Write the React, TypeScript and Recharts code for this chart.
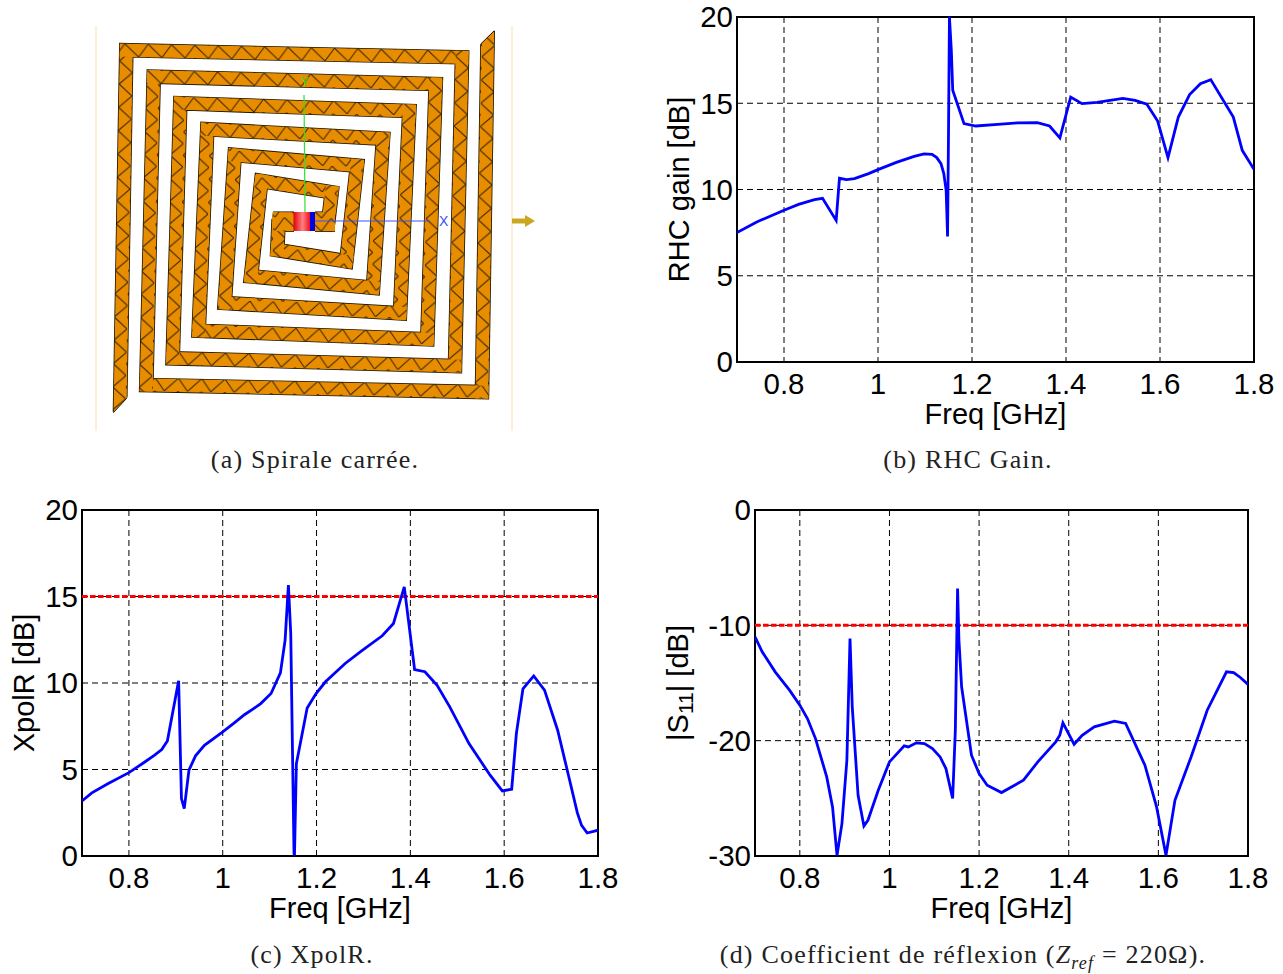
import {
  LineChart, Line, XAxis, YAxis, CartesianGrid, ReferenceArea, ReferenceLine,
  ScatterChart, Scatter,
} from "recharts";

const SANS = "'Liberation Sans', Arial, sans-serif";
const SERIF = "'Liberation Serif', serif";

// panel (b)
const gainFreq = [0.7, 0.742, 0.8, 0.831, 0.865, 0.882, 0.911, 0.918, 0.933, 0.95, 0.98, 1.0, 1.039, 1.077, 1.098, 1.115, 1.125, 1.134, 1.14, 1.145, 1.148, 1.15, 1.152, 1.156, 1.159, 1.183, 1.208, 1.255, 1.297, 1.339, 1.365, 1.387, 1.41, 1.434, 1.466, 1.521, 1.547, 1.572, 1.595, 1.617, 1.639, 1.663, 1.686, 1.708, 1.756, 1.775, 1.8];
const gainDb = [7.5, 8.12, 8.8, 9.14, 9.41, 9.49, 8.21, 10.65, 10.57, 10.63, 10.92, 11.15, 11.57, 11.92, 12.06, 12.04, 11.85, 11.5, 10.92, 9.95, 7.28, 13.2, 20, 18.07, 15.75, 13.82, 13.68, 13.78, 13.86, 13.87, 13.68, 12.99, 15.36, 14.98, 15.05, 15.28, 15.17, 14.94, 13.97, 11.85, 14.2, 15.5, 16.13, 16.37, 14.2, 12.27, 11.17];

// panel (c)
const xpolFreq = [0.7, 0.721, 0.756, 0.8, 0.833, 0.854, 0.87, 0.882, 0.906, 0.912, 0.918, 0.928, 0.942, 0.961, 1.0, 1.024, 1.047, 1.065, 1.081, 1.103, 1.123, 1.133, 1.14, 1.145, 1.152, 1.153, 1.157, 1.18, 1.199, 1.219, 1.261, 1.296, 1.34, 1.364, 1.387, 1.409, 1.431, 1.457, 1.484, 1.525, 1.57, 1.596, 1.616, 1.626, 1.64, 1.663, 1.686, 1.714, 1.737, 1.756, 1.765, 1.777, 1.8];
const xpolDb = [3.18, 3.65, 4.19, 4.82, 5.42, 5.82, 6.15, 6.65, 10.13, 3.32, 2.74, 4.96, 5.79, 6.4, 7.17, 7.68, 8.18, 8.5, 8.81, 9.39, 10.59, 12.48, 15.66, 12.86, 0.13, 0.05, 5.34, 8.56, 9.39, 10.07, 11.13, 11.86, 12.73, 13.44, 15.56, 10.78, 10.65, 9.87, 8.62, 6.5, 4.67, 3.76, 3.86, 7.08, 9.66, 10.41, 9.59, 7.27, 4.67, 2.49, 1.77, 1.33, 1.49];

// panel (d)
const s11Freq = [0.7, 0.716, 0.745, 0.777, 0.8, 0.817, 0.835, 0.86, 0.873, 0.883, 0.894, 0.905, 0.912, 0.917, 0.93, 0.943, 0.952, 0.975, 1.0, 1.033, 1.042, 1.06, 1.078, 1.096, 1.113, 1.126, 1.141, 1.147, 1.152, 1.155, 1.161, 1.183, 1.2, 1.218, 1.25, 1.299, 1.331, 1.371, 1.38, 1.387, 1.412, 1.43, 1.457, 1.502, 1.527, 1.57, 1.596, 1.617, 1.637, 1.673, 1.709, 1.752, 1.768, 1.783, 1.8];
const s11Db = [-10.99, -12.29, -14.03, -15.62, -16.92, -18.08, -19.82, -23.14, -25.74, -29.94, -27.19, -21.7, -11.14, -17.07, -24.73, -27.39, -26.9, -24.3, -21.84, -20.45, -20.54, -20.19, -20.25, -20.68, -21.41, -22.42, -25.02, -19.09, -6.8, -11.28, -15.33, -21.26, -22.85, -23.86, -24.5, -23.43, -21.84, -20.1, -19.53, -18.46, -20.31, -19.53, -18.8, -18.31, -18.51, -22.13, -25.74, -29.94, -25.17, -21.41, -17.36, -14.03, -14.09, -14.52, -15.13];

const freqTicks = [0.8, 1, 1.2, 1.4, 1.6, 1.8];
const gainTicks = [0, 5, 10, 15, 20];
const s11Ticks = [-30, -20, -10, 0];

// panel (a), spiral centre lines in page pixels
const armA = [[120, 412], [126.3, 50.3], [462, 57.3], [455, 366], [172.7, 358.3], [180.3, 103.3], [409.3, 111], [400, 313.3], [224.7, 303], [234.7, 155], [357, 165.7], [346.3, 261.3], [277.3, 250], [278.7, 219]];
const armB = [[487.7, 31], [482, 392], [146.3, 385], [153.7, 76.7], [435.7, 84], [427.3, 339.3], [198.7, 330.7], [207.3, 129.3], [383, 138.7], [373, 287.7], [251, 276.3], [261.3, 181], [331.7, 192.3], [328, 224]];
const feedLeft = [[273, 221.7], [294, 221.7]];
const feedRight = [[315, 221.7], [335, 221.7]];
const feedRed = [[293.5, 221.5], [310, 221.5]];
const feedBlue = [[310, 221.5], [315, 221.5]];
const tipTop = [[472, 42.8], [496.4, 18.4]];
const tipBottom = [[111, 425], [136, 398.6]];
const tipTopEdge = [[480.7, 44], [494.3, 30.7]];
const tipBottomEdge = [[113.3, 412.7], [126.7, 398.3]];
const yAxisLine = [[304, 95], [305, 212]];
const xAxisLine = [[315, 221], [429.3, 221]];
const boxLeft = [[96, 26], [96, 431]];
const boxRight = [[512, 26], [512, 431]];
const arrowShaft = [[512, 221], [526, 221]];
const arrowHead = [[530, 221]];

const toPts = (list: number[][]) => list.map(([x, y]) => ({ x, y }));
const zip = (f: number[], v: number[]) => f.map((x, i) => ({ f: x, v: v[i] }));
const noDot = () => <g />;

function segments(arm: number[][]) {
  const out: { pts: { x: number; y: number }[]; mesh: string }[] = [];
  for (let i = 0; i + 1 < arm.length; i++) {
    const [x0, y0] = arm[i];
    const [x1, y1] = arm[i + 1];
    let mesh: string;
    if (Math.abs(x1 - x0) > Math.abs(y1 - y0)) mesh = x1 > x0 ? "meshTop" : "meshBottom";
    else mesh = y1 > y0 ? "meshRight" : "meshLeft";
    out.push({ pts: toPts([arm[i], arm[i + 1]]), mesh });
  }
  return out;
}

const HorizMesh = ({ id, dy, flip }: { id: string; dy: number; flip?: boolean }) => (
  <pattern id={id} patternUnits="userSpaceOnUse" width={23.3} height={13.1} patternTransform={`rotate(1.2) translate(0 ${dy})`}>
    <rect width={23.3} height={13.1} fill="#e88c00" />
    <path d={flip ? "M0 0L9.3 13.1L23.3 0" : "M0 13.1L9.3 0L23.3 13.1"} fill="none" stroke="#3a2800" strokeWidth={1} />
  </pattern>
);

const VertMesh = ({ id, dx, flip }: { id: string; dx: number; flip?: boolean }) => (
  <pattern id={id} patternUnits="userSpaceOnUse" width={13.1} height={23.3} patternTransform={`rotate(1.2) translate(${dx} 0)`}>
    <rect width={13.1} height={23.3} fill="#e88c00" />
    <path d={flip ? "M0 0L13.1 11.65L0 23.3" : "M13.1 0L0 11.65L13.1 23.3"} fill="none" stroke="#3a2800" strokeWidth={1} />
  </pattern>
);

function band(list: number[][], stroke: string, width: number, cap: "butt" | "square" = "butt") {
  return (
    <Scatter
      data={toPts(list)}
      shape={noDot}
      isAnimationActive={false}
      line={{ stroke, strokeWidth: width, strokeLinecap: cap, strokeLinejoin: "miter" }}
    />
  );
}

const spiralSegments = [...segments(armA), ...segments(armB)];

function Spiral() {
  return (
    <div style={{ position: "absolute", left: 0, top: 0 }}>
      <ScatterChart width={640} height={480} margin={{ top: 0, right: 0, bottom: 0, left: 0 }}>
        <defs>
          <HorizMesh id="meshTop" dy={41.1} />
          <HorizMesh id="meshBottom" dy={348.1} flip />
          <VertMesh id="meshLeft" dx={120.8} />
          <VertMesh id="meshRight" dx={456.65} flip />
          <linearGradient id="feedGrad" gradientUnits="userSpaceOnUse" x1={293.5} x2={310} y1={0} y2={0}>
            <stop offset="0" stopColor="#e00010" />
            <stop offset="0.55" stopColor="#ff8080" />
            <stop offset="1" stopColor="#f01020" />
          </linearGradient>
        </defs>
        <XAxis type="number" dataKey="x" domain={[0, 640]} hide />
        <YAxis type="number" dataKey="y" domain={[0, 480]} reversed hide />
        {band(boxLeft, "#f9dfa6", 1)}
        {band(boxRight, "#f9dfa6", 1)}
        {band(armA, "#1a1200", 14.6)}
        {band(armB, "#1a1200", 14.6)}
        {band(feedLeft, "#1a1200", 20.5)}
        {band(feedRight, "#1a1200", 20.5)}
        {spiralSegments.map((s, i) => (
          <Scatter
            key={i}
            data={s.pts}
            shape={noDot}
            isAnimationActive={false}
            line={{ stroke: `url(#${s.mesh})`, strokeWidth: 13, strokeLinecap: "square" }}
          />
        ))}
        {band(feedLeft, "url(#meshTop)", 19)}
        {band(feedRight, "url(#meshTop)", 19)}
        {band(tipTop, "#ffffff", 14)}
        {band(tipBottom, "#ffffff", 14)}
        {band(tipTopEdge, "#1a1200", 1)}
        {band(tipBottomEdge, "#1a1200", 1)}
        {band(feedRed, "url(#feedGrad)", 19)}
        {band(feedBlue, "#0000e0", 19)}
        {band(yAxisLine, "#30e030", 1.2)}
        {band(xAxisLine, "#4050f0", 1.2)}
        {band(arrowShaft, "#c9a820", 5)}
        <Scatter
          data={toPts(arrowHead)}
          isAnimationActive={false}
          shape={(p: any) => <path d={`M${p.cx - 5} ${p.cy - 6}L${p.cx + 5} ${p.cy}L${p.cx - 5} ${p.cy + 6}Z`} fill="#c9a820" />}
        />
      </ScatterChart>
      <div style={{ position: "absolute", left: 301, top: 75, font: `12px ${SANS}`, color: "#30e030" }}>Y</div>
      <div style={{ position: "absolute", left: 439, top: 213, font: `14px ${SANS}`, color: "#4050f0" }}>X</div>
    </div>
  );
}

type PanelProps = {
  left: number; top: number; plotLeft: number; plotW: number; plotTop: number; plotH: number;
  data: { f: number; v: number }[]; yDomain: [number, number]; yTicks: number[];
  titleX: number; title: any; limit?: number;
};

function Panel({ left, top, plotLeft, plotW, plotTop, plotH, data, yDomain, yTicks, titleX, title, limit }: PanelProps) {
  const W = 640;
  const H = 470;
  const xAxisH = 50;
  return (
    <div style={{ position: "absolute", left, top }}>
      <LineChart
        width={W}
        height={H}
        data={data}
        margin={{ top: plotTop, left: 0, right: W - plotLeft - plotW, bottom: H - plotTop - plotH - xAxisH }}
        style={{ overflow: "visible" }}
      >
        <CartesianGrid stroke="#000" strokeWidth={1} strokeDasharray="6 4" />
        <XAxis
          dataKey="f"
          type="number"
          domain={[0.7, 1.8]}
          ticks={freqTicks}
          interval={0}
          height={xAxisH}
          allowDataOverflow
          tickLine={false}
          axisLine={false}
          tickMargin={5}
          tick={{ fill: "#000", fontSize: 29.5, fontFamily: SANS }}
          label={{ value: "Freq [GHz]", position: "bottom", offset: -9, fill: "#000", fontSize: 29, fontFamily: SANS }}
        />
        <YAxis
          type="number"
          domain={yDomain}
          ticks={yTicks}
          interval={0}
          width={plotLeft}
          tickLine={false}
          axisLine={false}
          tickSize={4}
          tickMargin={0}
          tick={{ fill: "#000", fontSize: 29.5, fontFamily: SANS }}
          label={() => (
            <text
              transform={`translate(${titleX} ${plotTop + plotH / 2}) rotate(-90)`}
              textAnchor="middle"
              dominantBaseline="central"
              fontSize={29}
              fontFamily={SANS}
              fill="#000"
            >
              {title}
            </text>
          )}
        />
        {limit !== undefined && <ReferenceLine y={limit} stroke="#ff0000" strokeWidth={3} strokeDasharray="5.5 2.5" />}
        <ReferenceArea x1={0.7} x2={1.8} y1={yDomain[0]} y2={yDomain[1]} fill="none" stroke="#000" strokeWidth={2} />
        <Line dataKey="v" type="linear" stroke="#0000ff" strokeWidth={2.8} dot={false} isAnimationActive={false} />
      </LineChart>
    </div>
  );
}

const captionStyle = (cx: number, y: number): any => ({
  position: "absolute",
  left: cx - 320,
  width: 640,
  top: y,
  textAlign: "center",
  font: `26px ${SERIF}`,
  color: "#222",
  letterSpacing: "1.2px",
  whiteSpace: "nowrap",
});

export default function App() {
  return (
    <div style={{ position: "absolute", left: 0, top: 0, width: 1283, height: 974, overflow: "hidden", background: "#fff" }}>
      <Spiral />
      <Panel left={640} top={0} plotLeft={97} plotW={517} plotTop={17} plotH={345} data={zip(gainFreq, gainDb)} yDomain={[0, 20]} yTicks={gainTicks} titleX={39} title="RHC gain [dB]" />
      <Panel left={0} top={494} plotLeft={82} plotW={516} plotTop={16} plotH={346} data={zip(xpolFreq, xpolDb)} yDomain={[0, 20]} yTicks={gainTicks} titleX={24} title="XpolR [dB]" limit={15} />
      <Panel
        left={640}
        top={494}
        plotLeft={115}
        plotW={493}
        plotTop={16}
        plotH={346}
        data={zip(s11Freq, s11Db)}
        yDomain={[-30, 0]}
        yTicks={s11Ticks}
        titleX={38}
        limit={-10}
        title={<>|S<tspan fontSize={21} dy={7}>11</tspan><tspan dy={-7}>| [dB]</tspan></>}
      />
      <div style={captionStyle(315, 445)}>(a) Spirale carrée.</div>
      <div style={captionStyle(968, 445)}>(b) RHC Gain.</div>
      <div style={captionStyle(312, 940)}>(c) XpolR.</div>
      <div style={captionStyle(963, 940)}>
        (d) Coefficient de réflexion (<i>Z<sub style={{ fontSize: 18, lineHeight: 0 }}>ref</sub></i> = 220Ω).
      </div>
    </div>
  );
}
